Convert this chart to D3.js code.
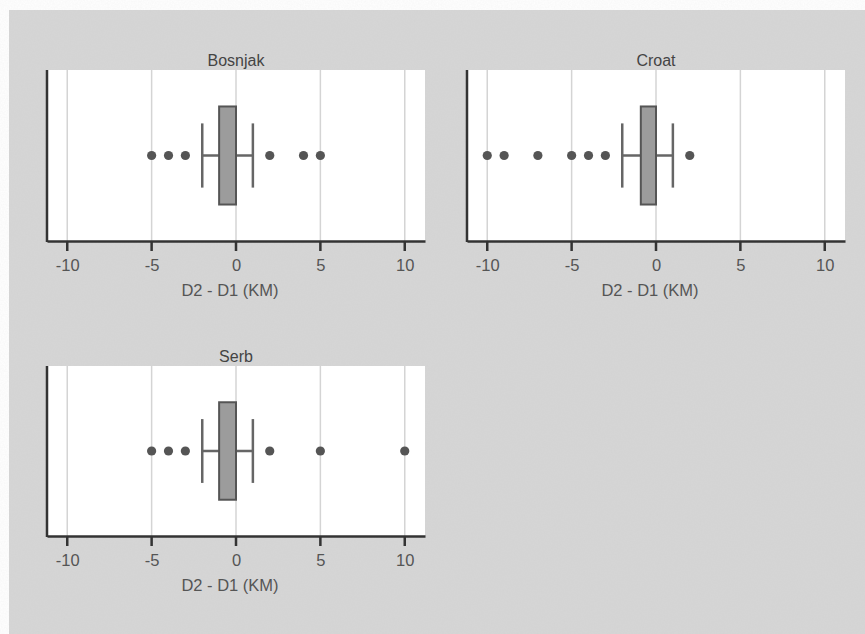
<!DOCTYPE html>
<html>
<head>
<meta charset="utf-8">
<script src="https://cdn.jsdelivr.net/npm/d3@7"></script>
<style>
  body { margin: 0; background: #fff; }
  text { font-family: "Liberation Sans", Arial, sans-serif; }
</style>
</head>
<body>
<div id="chart"></div>
<script>
// Box plot data per group (km)
const groups = ["Bosnjak", "Croat", "Serb"];
const lowWhisker = [-2, -2, -2];
const q1 = [-1, -0.9, -1];
const q3 = [0, 0, 0];
const highWhisker = [1, 1, 1];
const outliers = [
    [-5, -4, -3, 2, 4, 5],
    [-10, -9, -7, -5, -4, -3, 2],
    [-5, -4, -3, 2, 5, 10]
];
const xTicks = [-10, -5, 0, 5, 10];
const axisTitle = "D2 - D1 (KM)";

const W = 865, H = 634;
const svg = d3.select("#chart").append("svg")
    .attr("width", W)
    .attr("height", H);

// paper texture
const defs = svg.append("defs");
const f = defs.append("filter").attr("id", "grain");
f.append("feTurbulence").attr("type", "fractalNoise")
    .attr("baseFrequency", 0.7).attr("numOctaves", 2).attr("seed", 3);
f.append("feColorMatrix").attr("type", "matrix")
    .attr("values", "0 0 0 0 0.5  0 0 0 0 0.5  0 0 0 0 0.5  0 0 0 0.12 0");

svg.append("rect").attr("x", 9).attr("y", 10)
    .attr("width", W - 9).attr("height", H - 10)
    .attr("fill", "#d6d6d6");
svg.append("rect").attr("x", 9).attr("y", 10)
    .attr("width", W - 9).attr("height", H - 10)
    .attr("filter", "url(#grain)");

// panel positions (plot area)
const panels = [
    {left: 47, top: 70, h: 171},
    {left: 467, top: 70, h: 171},
    {left: 47, top: 366, h: 170}
];
const pw = 378;

groups.forEach((g, i) => {
    const p = panels[i];
    const ph = p.h;
    const svgP = svg.append("g")
        .attr("transform", `translate(${p.left},${p.top})`);

    const x = d3.scaleLinear()
        .domain([-11.2, 11.2])
        .range([0, pw]);

    const y = d3.scaleBand()
        .domain([g])
        .range([0, ph])
        .paddingInner(0)
        .paddingOuter(0.372);
    const cy = y(g) + y.bandwidth() / 2;
    const capH = y.bandwidth() * 0.655;

    svgP.append("rect")
        .attr("width", pw).attr("height", ph)
        .attr("fill", "#fff");

    // grid lines
    svgP.selectAll(".grid")
        .data(xTicks)
        .join("line")
        .attr("x1", d => x(d)).attr("x2", d => x(d))
        .attr("y1", 0).attr("y2", ph)
        .attr("stroke", "#d4d4d4")
        .attr("stroke-width", 1.5);

    // whiskers
    svgP.append("line")
        .attr("x1", x(lowWhisker[i])).attr("x2", x(highWhisker[i]))
        .attr("y1", cy).attr("y2", cy)
        .attr("stroke", "#666").attr("stroke-width", 2.5);
    [lowWhisker[i], highWhisker[i]].forEach(v => {
        svgP.append("line")
            .attr("x1", x(v)).attr("x2", x(v))
            .attr("y1", cy - capH / 2).attr("y2", cy + capH / 2)
            .attr("stroke", "#666").attr("stroke-width", 2.5);
    });

    // box
    svgP.append("rect")
        .attr("x", x(q1[i]))
        .attr("y", y(g))
        .attr("width", x(q3[i]) - x(q1[i]))
        .attr("height", y.bandwidth())
        .attr("fill", "#9c9c9c")
        .attr("stroke", "#555")
        .attr("stroke-width", 2);

    // outliers
    svgP.selectAll(".out")
        .data(outliers[i])
        .join("circle")
        .attr("cx", d => x(d))
        .attr("cy", cy)
        .attr("r", 4.6)
        .attr("fill", "#555");

    // x axis
    const xAxis = d3.axisBottom(x)
        .tickValues(xTicks)
        .tickSize(10)
        .tickSizeOuter(0)
        .tickPadding(8)
        .tickFormat(d3.format("d"));
    const ax = svgP.append("g")
        .attr("transform", `translate(0,${ph})`)
        .call(xAxis);
    ax.select(".domain").attr("stroke", "#333").attr("stroke-width", 2.5);
    ax.selectAll(".tick line").remove();
    ax.selectAll(".tick text")
        .attr("fill", "#555")
        .style("font-size", "16.5px")
        .text(d => d < 0 ? "-" + Math.abs(d) : d);

    // tick marks below the axis
    svgP.append("g").selectAll("line")
        .data(xTicks)
        .join("line")
        .attr("x1", d => x(d)).attr("x2", d => x(d))
        .attr("y1", ph).attr("y2", ph + 10)
        .attr("stroke", "#333")
        .attr("stroke-width", 2.5);

    // left axis line
    svgP.append("line")
        .attr("x1", 0).attr("x2", 0)
        .attr("y1", 0).attr("y2", ph + 1)
        .attr("stroke", "#333").attr("stroke-width", 2.5);

    // panel title
    svgP.append("text")
        .attr("x", x(0))
        .attr("y", -4)
        .attr("text-anchor", "middle")
        .attr("fill", "#444")
        .style("font-size", "16px")
        .text(g);

    // axis title
    svgP.append("text")
        .attr("x", x(0) - 6)
        .attr("y", ph + 55)
        .attr("text-anchor", "middle")
        .attr("fill", "#555")
        .style("font-size", "16.5px")
        .text(axisTitle);
});
</script>
</body>
</html>
